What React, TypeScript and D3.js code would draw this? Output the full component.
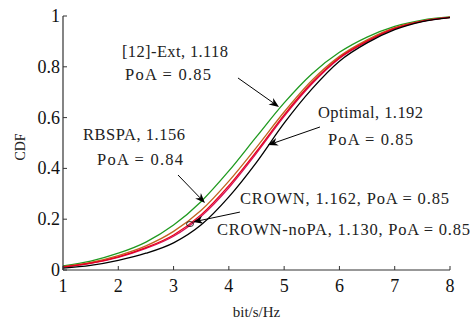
import { useEffect, useRef } from 'react';
import * as d3 from 'd3';

// x grid (bit/s/Hz) shared by every curve
const rates = [1, 1.5, 2, 2.5, 3, 3.5, 4, 4.5, 5, 5.5, 6, 6.5, 7, 7.5, 8];

const extCdf = [0.016, 0.035, 0.066, 0.11, 0.177, 0.27, 0.39, 0.525, 0.658, 0.772, 0.857, 0.917, 0.959, 0.984, 0.996];
const rbspaCdf = [0.013, 0.03, 0.057, 0.095, 0.152, 0.235, 0.35, 0.483, 0.622, 0.746, 0.841, 0.906, 0.954, 0.981, 0.995];
const crownCdf = [0.012, 0.027, 0.052, 0.088, 0.138, 0.218, 0.332, 0.467, 0.611, 0.737, 0.836, 0.901, 0.951, 0.98, 0.995];
const crownNoPaCdf = [0.011, 0.026, 0.05, 0.085, 0.133, 0.212, 0.324, 0.46, 0.605, 0.732, 0.833, 0.899, 0.95, 0.979, 0.995];
const optimalCdf = [0.007, 0.018, 0.038, 0.066, 0.107, 0.178, 0.288, 0.424, 0.578, 0.712, 0.822, 0.894, 0.946, 0.978, 0.994];

const seriesNames = ['[12]-Ext', 'RBSPA', 'CROWN-noPA', 'CROWN', 'Optimal'];
const seriesValues = [extCdf, rbspaCdf, crownNoPaCdf, crownCdf, optimalCdf];
const seriesColors = ['#1f9a1f', '#c0641e', '#d4145a', '#e8001c', '#000000'];

const xTicks = [1, 2, 3, 4, 5, 6, 7, 8];
const yTicks = [0, 0.2, 0.4, 0.6, 0.8, 1];
const yTickLabels = ['0', '0.2', '0.4', '0.6', '0.8', '1'];

// annotation text: [x, y (baseline), text, width in px]
const labels: [number, number, string, number][] = [
  [2.067, 0.839, '[12]-Ext, 1.118', 106],
  [2.121, 0.748, 'PoA = 0.85', 86],
  [1.362, 0.512, 'RBSPA, 1.156', 102],
  [1.615, 0.413, 'PoA = 0.84', 86],
  [5.612, 0.598, 'Optimal, 1.192', 105],
  [5.793, 0.492, 'PoA = 0.85', 85],
  [4.201, 0.26, 'CROWN, 1.162, PoA = 0.85', 209],
  [3.785, 0.138, 'CROWN-noPA, 1.130, PoA = 0.85', 253],
];

// arrows: [x0, y0, x1 (tip), y1 (tip)]
const arrows: [number, number, number, number][] = [
  [4.165, 0.756, 4.907, 0.642],
  [5.648, 0.563, 4.708, 0.492],
  [3.08, 0.374, 3.568, 0.264],
  [4.2, 0.228, 3.351, 0.189],
];

const ellipseCenter = [3.297, 0.181];

export default function App() {
  const svgRef = useRef<SVGSVGElement>(null);
  const width = 473;
  const height = 322;

  useEffect(() => {
    if (!svgRef.current) return;
    const svg = d3.select(svgRef.current);
    svg.selectAll('*').remove();

    const margin = { top: 16, right: 23, bottom: 52, left: 63 };
    const x = d3.scaleLinear().domain([1, 8]).range([margin.left, width - margin.right]);
    const y = d3.scaleLinear().domain([0, 1]).range([height - margin.bottom, margin.top]);

    const font = "'Liberation Serif', 'Times New Roman', serif";
    const axisColor = '#333';

    // curves
    const line = d3
      .line<number>()
      .x((_, i) => x(rates[i]))
      .y((d) => y(d))
      .curve(d3.curveMonotoneX);

    seriesValues.forEach((vals, k) => {
      svg
        .append('path')
        .datum(vals)
        .attr('d', line)
        .attr('fill', 'none')
        .attr('stroke', seriesColors[k])
        .attr('stroke-width', 1.3)
        .attr('class', seriesNames[k]);
    });

    // axes
    const xAxis = svg.append('g').attr('transform', `translate(0,${y(0)})`);
    xAxis
      .append('line')
      .attr('x1', x(1))
      .attr('x2', x(8))
      .attr('stroke', axisColor)
      .attr('stroke-width', 1.2);
    xTicks.forEach((t) => {
      xAxis
        .append('line')
        .attr('x1', x(t))
        .attr('x2', x(t))
        .attr('y1', 0)
        .attr('y2', -4)
        .attr('stroke', axisColor);
      xAxis
        .append('text')
        .attr('x', x(t))
        .attr('y', 22)
        .attr('text-anchor', 'middle')
        .attr('font-family', font)
        .attr('font-size', 18)
        .attr('fill', '#111')
        .text(String(t));
    });

    const yAxis = svg.append('g').attr('transform', `translate(${x(1)},0)`);
    yAxis
      .append('line')
      .attr('y1', y(0))
      .attr('y2', y(1))
      .attr('stroke', axisColor)
      .attr('stroke-width', 1.2);
    yTicks.forEach((t, i) => {
      yAxis
        .append('line')
        .attr('x1', 0)
        .attr('x2', 4)
        .attr('y1', y(t))
        .attr('y2', y(t))
        .attr('stroke', axisColor);
      yAxis
        .append('text')
        .attr('x', -3)
        .attr('y', y(t) + 6)
        .attr('text-anchor', 'end')
        .attr('font-family', font)
        .attr('font-size', 18)
        .attr('fill', '#111')
        .text(yTickLabels[i]);
    });

    // axis labels
    svg
      .append('text')
      .attr('x', (x(1) + x(8)) / 2)
      .attr('y', 317)
      .attr('text-anchor', 'middle')
      .attr('font-family', font)
      .attr('font-size', 15)
      .attr('fill', '#222')
      .text('bit/s/Hz');

    svg
      .append('text')
      .attr('transform', `translate(25,147) rotate(-90)`)
      .attr('text-anchor', 'middle')
      .attr('font-family', font)
      .attr('font-size', 14)
      .attr('fill', '#222')
      .text('CDF');

    // arrows
    arrows.forEach(([x0, y0, x1, y1]) => {
      const px0 = x(x0);
      const py0 = y(y0);
      const px1 = x(x1);
      const py1 = y(y1);
      const ang = Math.atan2(py1 - py0, px1 - px0);
      const len = 10;
      const half = 4;
      const bx = px1 - len * Math.cos(ang);
      const by = py1 - len * Math.sin(ang);
      const nx = -Math.sin(ang);
      const ny = Math.cos(ang);
      const ix = px1 - len * 0.7 * Math.cos(ang);
      const iy = py1 - len * 0.7 * Math.sin(ang);
      svg
        .append('line')
        .attr('x1', px0)
        .attr('y1', py0)
        .attr('x2', ix)
        .attr('y2', iy)
        .attr('stroke', '#000')
        .attr('stroke-width', 1);
      svg
        .append('path')
        .attr(
          'd',
          `M${px1},${py1} L${bx + nx * half},${by + ny * half} L${ix},${iy} L${bx - nx * half},${by - ny * half} Z`
        )
        .attr('fill', '#000');
    });

    svg
      .append('ellipse')
      .attr('cx', x(ellipseCenter[0]))
      .attr('cy', y(ellipseCenter[1]))
      .attr('rx', 3.5)
      .attr('ry', 2.5)
      .attr('fill', 'none')
      .attr('stroke', '#000')
      .attr('stroke-width', 0.8);

    // annotation text
    labels.forEach(([lx, ly, txt, w]) => {
      svg
        .append('text')
        .attr('x', x(lx))
        .attr('y', y(ly))
        .attr('font-family', font)
        .attr('font-size', 16.5)
        .attr('fill', '#222')
        .attr('textLength', w)
        .attr('lengthAdjust', 'spacing')
        .text(txt);
    });
  }, []);

  return (
    <svg
      ref={svgRef}
      width={width}
      height={height}
      style={{ position: 'absolute', left: 0, top: 0, background: '#fff' }}
    ></svg>
  );
}
